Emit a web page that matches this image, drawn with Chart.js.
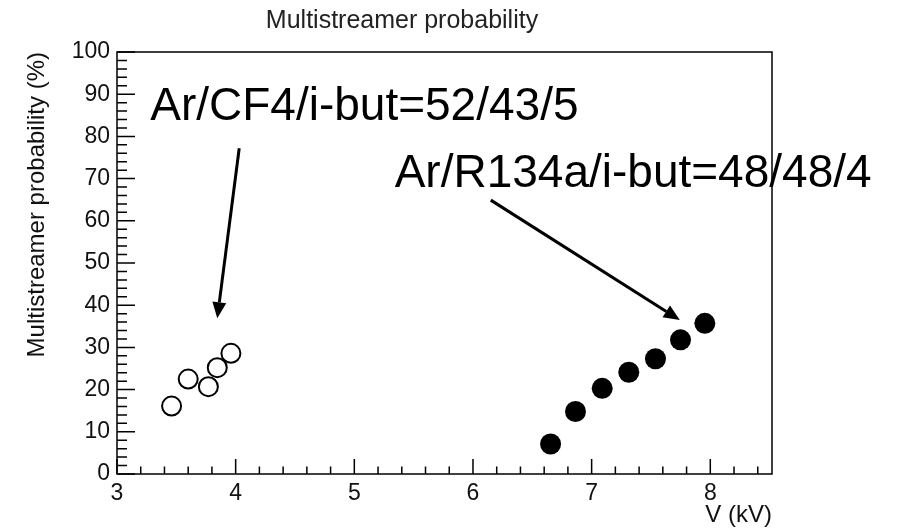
<!DOCTYPE html>
<html>
<head>
<meta charset="utf-8">
<script src="https://cdn.jsdelivr.net/npm/chart.js@4.4.1/dist/chart.umd.min.js"></script>
<style>
  html, body { margin: 0; padding: 0; background: #fff; }
</style>
</head>
<body>
<canvas id="msChart" width="908" height="532"></canvas>
<script>
// Ar/CF4/i-butane 52/43/5
const cf4Voltage = [3.46, 3.60, 3.77, 3.845, 3.96];
const cf4Prob = [16.1, 22.5, 20.7, 25.2, 28.6];

// Ar/R134a/i-butane 48/48/4
const r134aVoltage = [6.654, 6.864, 7.089, 7.313, 7.538, 7.749, 7.954];
const r134aProb = [7.1, 14.8, 20.3, 24.1, 27.3, 31.8, 35.7];

const chartTitle = 'Multistreamer probability';
const xTitle = 'V (kV)';
const yTitle = 'Multistreamer probability (%)';
const gasLabels = ['Ar/CF4/i-but=52/43/5', 'Ar/R134a/i-but=48/48/4'];

const FONT = '"Liberation Sans", Arial, Helvetica, sans-serif';

// text + arrow for each gas mixture, anchored in axis units
const notes = [
    { text: gasLabels[0], at: [3.28, 83.9], from: [4.03, 77.2], to: [3.845, 36.9] },
    { text: gasLabels[1], at: [5.34, 68.0], from: [6.15, 64.9], to: [7.743, 36.5] }
];

function drawArrow(ctx, x0, y0, x1, y1) {
    const ang = Math.atan2(y1 - y0, x1 - x0);
    const head = 16, half = 7;
    const bx = x1 - head * Math.cos(ang);
    const by = y1 - head * Math.sin(ang);
    ctx.lineWidth = 3;
    ctx.beginPath();
    ctx.moveTo(x0, y0);
    ctx.lineTo(bx, by);
    ctx.stroke();
    ctx.beginPath();
    ctx.moveTo(x1, y1);
    ctx.lineTo(bx + half * Math.sin(ang), by - half * Math.cos(ang));
    ctx.lineTo(bx - half * Math.sin(ang), by + half * Math.cos(ang));
    ctx.closePath();
    ctx.fill();
}

// ROOT-style frame: closed box, ticks pointing inwards, title and notes
const rootFrame = {
    id: 'rootFrame',
    afterDatasetsDraw(chart) {
        const { ctx, chartArea: a, scales: { x, y } } = chart;
        ctx.save();
        ctx.strokeStyle = '#000';
        ctx.fillStyle = '#000';
        ctx.lineWidth = 1.5;
        ctx.strokeRect(a.left, a.top, a.right - a.left, a.bottom - a.top);

        ctx.beginPath();
        for (let i = 0; x.min + i * 0.2 <= x.max + 1e-9; i++) {
            const px = x.getPixelForValue(x.min + i * 0.2);
            const len = i % 5 === 0 ? 15 : 7.5;
            ctx.moveTo(px, a.bottom);
            ctx.lineTo(px, a.bottom - len);
        }
        for (let i = 0; i <= 50; i++) {
            const py = y.getPixelForValue(i * 2);
            const len = i % 5 === 0 ? 18 : 10;
            ctx.moveTo(a.left, py);
            ctx.lineTo(a.left + len, py);
        }
        ctx.stroke();

        ctx.fillStyle = '#222';
        ctx.font = '25px ' + FONT;
        ctx.textAlign = 'center';
        ctx.textBaseline = 'alphabetic';
        ctx.fillText(chartTitle, 402, 28);

        ctx.fillStyle = '#000';
        ctx.font = '46px ' + FONT;
        ctx.textAlign = 'left';
        notes.forEach(n => {
            ctx.fillText(n.text, x.getPixelForValue(n.at[0]), y.getPixelForValue(n.at[1]));
            drawArrow(ctx,
                x.getPixelForValue(n.from[0]), y.getPixelForValue(n.from[1]),
                x.getPixelForValue(n.to[0]), y.getPixelForValue(n.to[1]));
        });
        ctx.restore();
    }
};

const tickFont = { family: FONT, size: 23 };

new Chart(document.getElementById('msChart'), {
    type: 'scatter',
    data: {
        datasets: [
            {
                label: gasLabels[0],
                data: cf4Voltage.map((v, i) => ({ x: v, y: cf4Prob[i] })),
                pointRadius: 9.5,
                pointBorderWidth: 2,
                pointBorderColor: '#000',
                pointBackgroundColor: 'rgba(0,0,0,0)'
            },
            {
                label: gasLabels[1],
                data: r134aVoltage.map((v, i) => ({ x: v, y: r134aProb[i] })),
                pointRadius: 10.5,
                pointBorderWidth: 0,
                pointBackgroundColor: '#000'
            }
        ]
    },
    options: {
        responsive: false,
        animation: false,
        layout: { padding: { top: 52, right: 136, left: 0, bottom: 0 } },
        plugins: {
            legend: { display: false },
            tooltip: { enabled: false }
        },
        scales: {
            x: {
                type: 'linear',
                min: 3,
                max: 8.52,
                grid: { display: false, drawTicks: false },
                border: { display: false },
                ticks: { stepSize: 1, includeBounds: false, padding: 6, color: '#111', font: tickFont },
                title: {
                    display: true,
                    text: xTitle,
                    align: 'end',
                    color: '#111',
                    font: { family: FONT, size: 24 },
                    padding: { top: 0, bottom: 2 }
                },
                afterFit(scale) { scale.height = 58; }
            },
            y: {
                min: 0,
                max: 100,
                grid: { display: false, drawTicks: false },
                border: { display: false },
                ticks: { stepSize: 10, padding: 7, color: '#111', font: tickFont },
                title: {
                    display: true,
                    text: yTitle,
                    align: 'end',
                    color: '#111',
                    font: { family: FONT, size: 24 },
                    padding: { top: 23, bottom: 0 }
                },
                afterFit(scale) { scale.width = 117; }
            }
        }
    },
    plugins: [rootFrame]
});
</script>
</body>
</html>
